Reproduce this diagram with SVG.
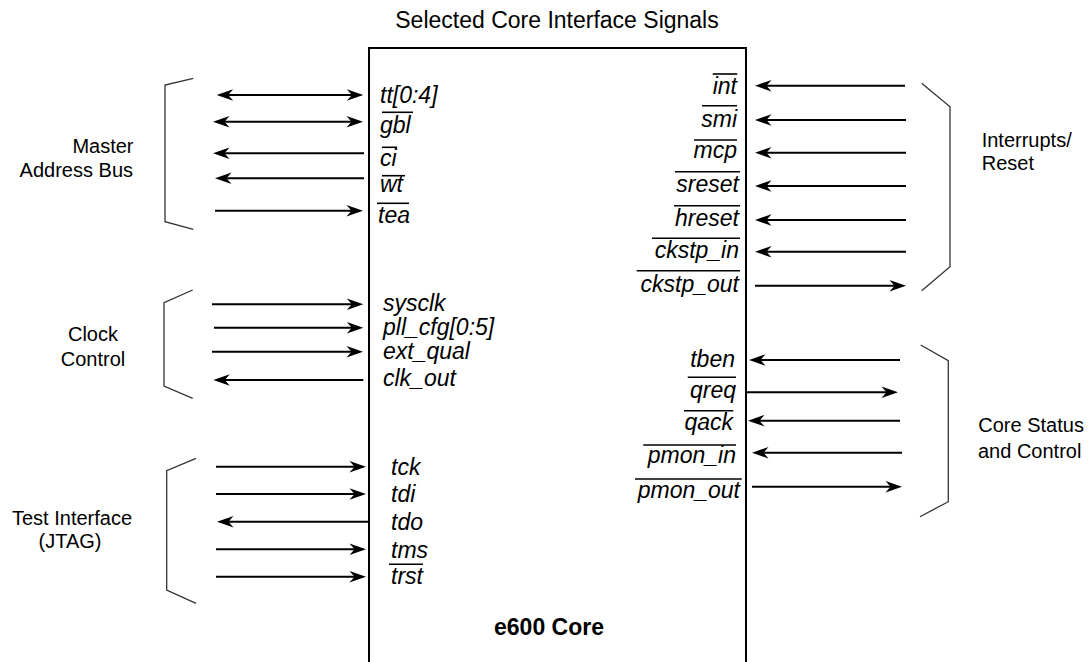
<svg xmlns="http://www.w3.org/2000/svg" width="1091" height="662" viewBox="0 0 1091 662">
<style>
text{font-family:"Liberation Sans",Arial,Helvetica,sans-serif;fill:#000}
.title{font-size:23px}
.lbl{font-size:20px}
.sig{font-size:23px;font-style:italic}
.core{font-size:23px;font-weight:bold}
.ov{stroke:#000;stroke-width:1.6;fill:none}
.br{stroke:#333;stroke-width:1.3;fill:none}
.ar{stroke:#000;stroke-width:2;fill:none;marker-end:url(#ah)}
.bi{stroke:#000;stroke-width:2;fill:none;marker-end:url(#ah);marker-start:url(#ah)}
</style>
<defs>
<marker id="ah" markerUnits="userSpaceOnUse" markerWidth="18" markerHeight="14" viewBox="-17 -7 18 14" refX="-8" refY="0" orient="auto-start-reverse">
<path d="M0,0 L-16.5,-5.8 L-11.5,0 L-16.5,5.8 Z" fill="#000"/>
</marker>
</defs>
<rect width="1091" height="662" fill="#fff"/>
<text class="title" x="557" y="28" text-anchor="middle">Selected Core Interface Signals</text>

<g id="core">
<rect x="369" y="48" width="377" height="640" fill="#fff" stroke="#000" stroke-width="2"/>
<text class="core" x="549" y="635" text-anchor="middle">e600 Core</text>
</g>

<g id="master-address-bus">
<polyline class="br" points="193.3,78.3 165,85 165,221.7 193.3,229.3"/>
<text class="lbl" x="133.5" y="153" text-anchor="end">Master</text>
<text class="lbl" x="133" y="177" text-anchor="end">Address Bus</text>
<text class="sig" x="380" y="103">tt[0:4]</text>
<text class="sig" x="380" y="133">gbl</text>
<text class="sig" x="380" y="166">ci</text>
<text class="sig" x="380" y="192">wt</text>
<text class="sig" x="378" y="223">tea</text>
<line class="ov" x1="382" y1="112.3" x2="413" y2="112.3"/>
<line class="ov" x1="382" y1="147.3" x2="397" y2="147.3"/>
<line class="ov" x1="382" y1="175.7" x2="405" y2="175.7"/>
<line class="ov" x1="377" y1="203.3" x2="409" y2="203.3"/>
</g>

<g id="clock-control">
<polyline class="br" points="192.7,290 164,302.7 164,386 192.7,398.3"/>
<text class="lbl" x="93" y="341" text-anchor="middle">Clock</text>
<text class="lbl" x="93" y="366" text-anchor="middle">Control</text>
<text class="sig" x="383" y="310.5">sysclk</text>
<text class="sig" x="383" y="334.5">pll_cfg[0:5]</text>
<text class="sig" x="383" y="358.5">ext_qual</text>
<text class="sig" x="383" y="386">clk_out</text>
</g>

<g id="test-interface">
<polyline class="br" points="196,458.3 166.7,470.7 166.7,590 196,603.3"/>
<text class="lbl" x="72" y="525" text-anchor="middle">Test Interface</text>
<text class="lbl" x="70" y="548" text-anchor="middle">(JTAG)</text>
<text class="sig" x="391" y="475">tck</text>
<text class="sig" x="391" y="502">tdi</text>
<text class="sig" x="391" y="530">tdo</text>
<text class="sig" x="391" y="558">tms</text>
<text class="sig" x="391" y="584">trst</text>
<line class="ov" x1="389" y1="564.3" x2="423" y2="564.3"/>
</g>

<g id="interrupts-reset">
<polyline class="br" points="921.7,83.3 950,106.7 950,266.7 921.7,290.7"/>
<text class="lbl" x="981.7" y="146.7">Interrupts/</text>
<text class="lbl" x="981.7" y="170">Reset</text>
<text class="sig" x="737" y="94" text-anchor="end">int</text>
<text class="sig" x="737" y="126.7" text-anchor="end">smi</text>
<text class="sig" x="737" y="158" text-anchor="end">mcp</text>
<text class="sig" x="739" y="191.7" text-anchor="end">sreset</text>
<text class="sig" x="739" y="225.7" text-anchor="end">hreset</text>
<text class="sig" x="739" y="258" text-anchor="end">ckstp_in</text>
<text class="sig" x="739" y="291.7" text-anchor="end">ckstp_out</text>
<line class="ov" x1="712.7" y1="74" x2="737.3" y2="74"/>
<line class="ov" x1="702" y1="105.7" x2="737" y2="105.7"/>
<line class="ov" x1="694" y1="140" x2="737" y2="140"/>
<line class="ov" x1="675" y1="171.7" x2="740" y2="171.7"/>
<line class="ov" x1="674" y1="205.7" x2="740" y2="205.7"/>
<line class="ov" x1="652" y1="238.3" x2="740" y2="238.3"/>
<line class="ov" x1="636.7" y1="270.7" x2="740" y2="270.7"/>
</g>

<g id="core-status-control">
<polyline class="br" points="920.7,345 948.3,360.7 948.3,501.7 920,516.7"/>
<text class="lbl" x="978.3" y="431.7">Core Status</text>
<text class="lbl" x="978" y="458.3">and Control</text>
<text class="sig" x="735" y="366.7" text-anchor="end">tben</text>
<text class="sig" x="736" y="398" text-anchor="end">qreq</text>
<text class="sig" x="733" y="430" text-anchor="end">qack</text>
<text class="sig" x="736" y="463.3" text-anchor="end">pmon_in</text>
<text class="sig" x="740" y="498.3" text-anchor="end">pmon_out</text>
<line class="ov" x1="687.7" y1="377.3" x2="736" y2="377.3"/>
<line class="ov" x1="684" y1="410.7" x2="733.3" y2="410.7"/>
<line class="ov" x1="643.3" y1="445" x2="736" y2="445"/>
<line class="ov" x1="635" y1="479" x2="741.7" y2="479"/>
</g>

<g id="connectors">
<line class="bi" x1="224.7" y1="95" x2="355.3" y2="95"/>
<line class="bi" x1="221" y1="121.7" x2="355" y2="121.7"/>
<line class="ar" x1="364" y1="153.3" x2="221" y2="153.3"/>
<line class="ar" x1="364" y1="178.3" x2="223" y2="178.3"/>
<line class="ar" x1="215" y1="210.7" x2="355" y2="210.7"/>

<line class="ar" x1="212" y1="304.3" x2="355.3" y2="304.3"/>
<line class="ar" x1="214" y1="327.7" x2="355.3" y2="327.7"/>
<line class="ar" x1="212" y1="351.7" x2="355" y2="351.7"/>
<line class="ar" x1="363.3" y1="380" x2="221.3" y2="380"/>

<line class="ar" x1="216" y1="466.7" x2="358" y2="466.7"/>
<line class="ar" x1="216" y1="494" x2="358" y2="494"/>
<line class="ar" x1="368.3" y1="521.7" x2="225" y2="521.7"/>
<line class="ar" x1="216" y1="549.3" x2="358" y2="549.3"/>
<line class="ar" x1="216" y1="576.7" x2="358" y2="576.7"/>

<line class="ar" x1="905" y1="85.7" x2="763" y2="85.7"/>
<line class="ar" x1="906" y1="120" x2="763" y2="120"/>
<line class="ar" x1="906" y1="152.7" x2="763" y2="152.7"/>
<line class="ar" x1="906" y1="186" x2="763" y2="186"/>
<line class="ar" x1="906" y1="220" x2="763" y2="220"/>
<line class="ar" x1="906" y1="251.7" x2="763" y2="251.7"/>
<line class="ar" x1="755" y1="285.7" x2="898" y2="285.7"/>

<line class="ar" x1="900" y1="360" x2="757" y2="360"/>
<line class="ar" x1="746" y1="392.3" x2="890" y2="392.3"/>
<line class="ar" x1="900" y1="420.7" x2="756" y2="420.7"/>
<line class="ar" x1="902" y1="452.7" x2="760" y2="452.7"/>
<line class="ar" x1="752" y1="486.7" x2="894" y2="486.7"/>
</g>
</svg>
